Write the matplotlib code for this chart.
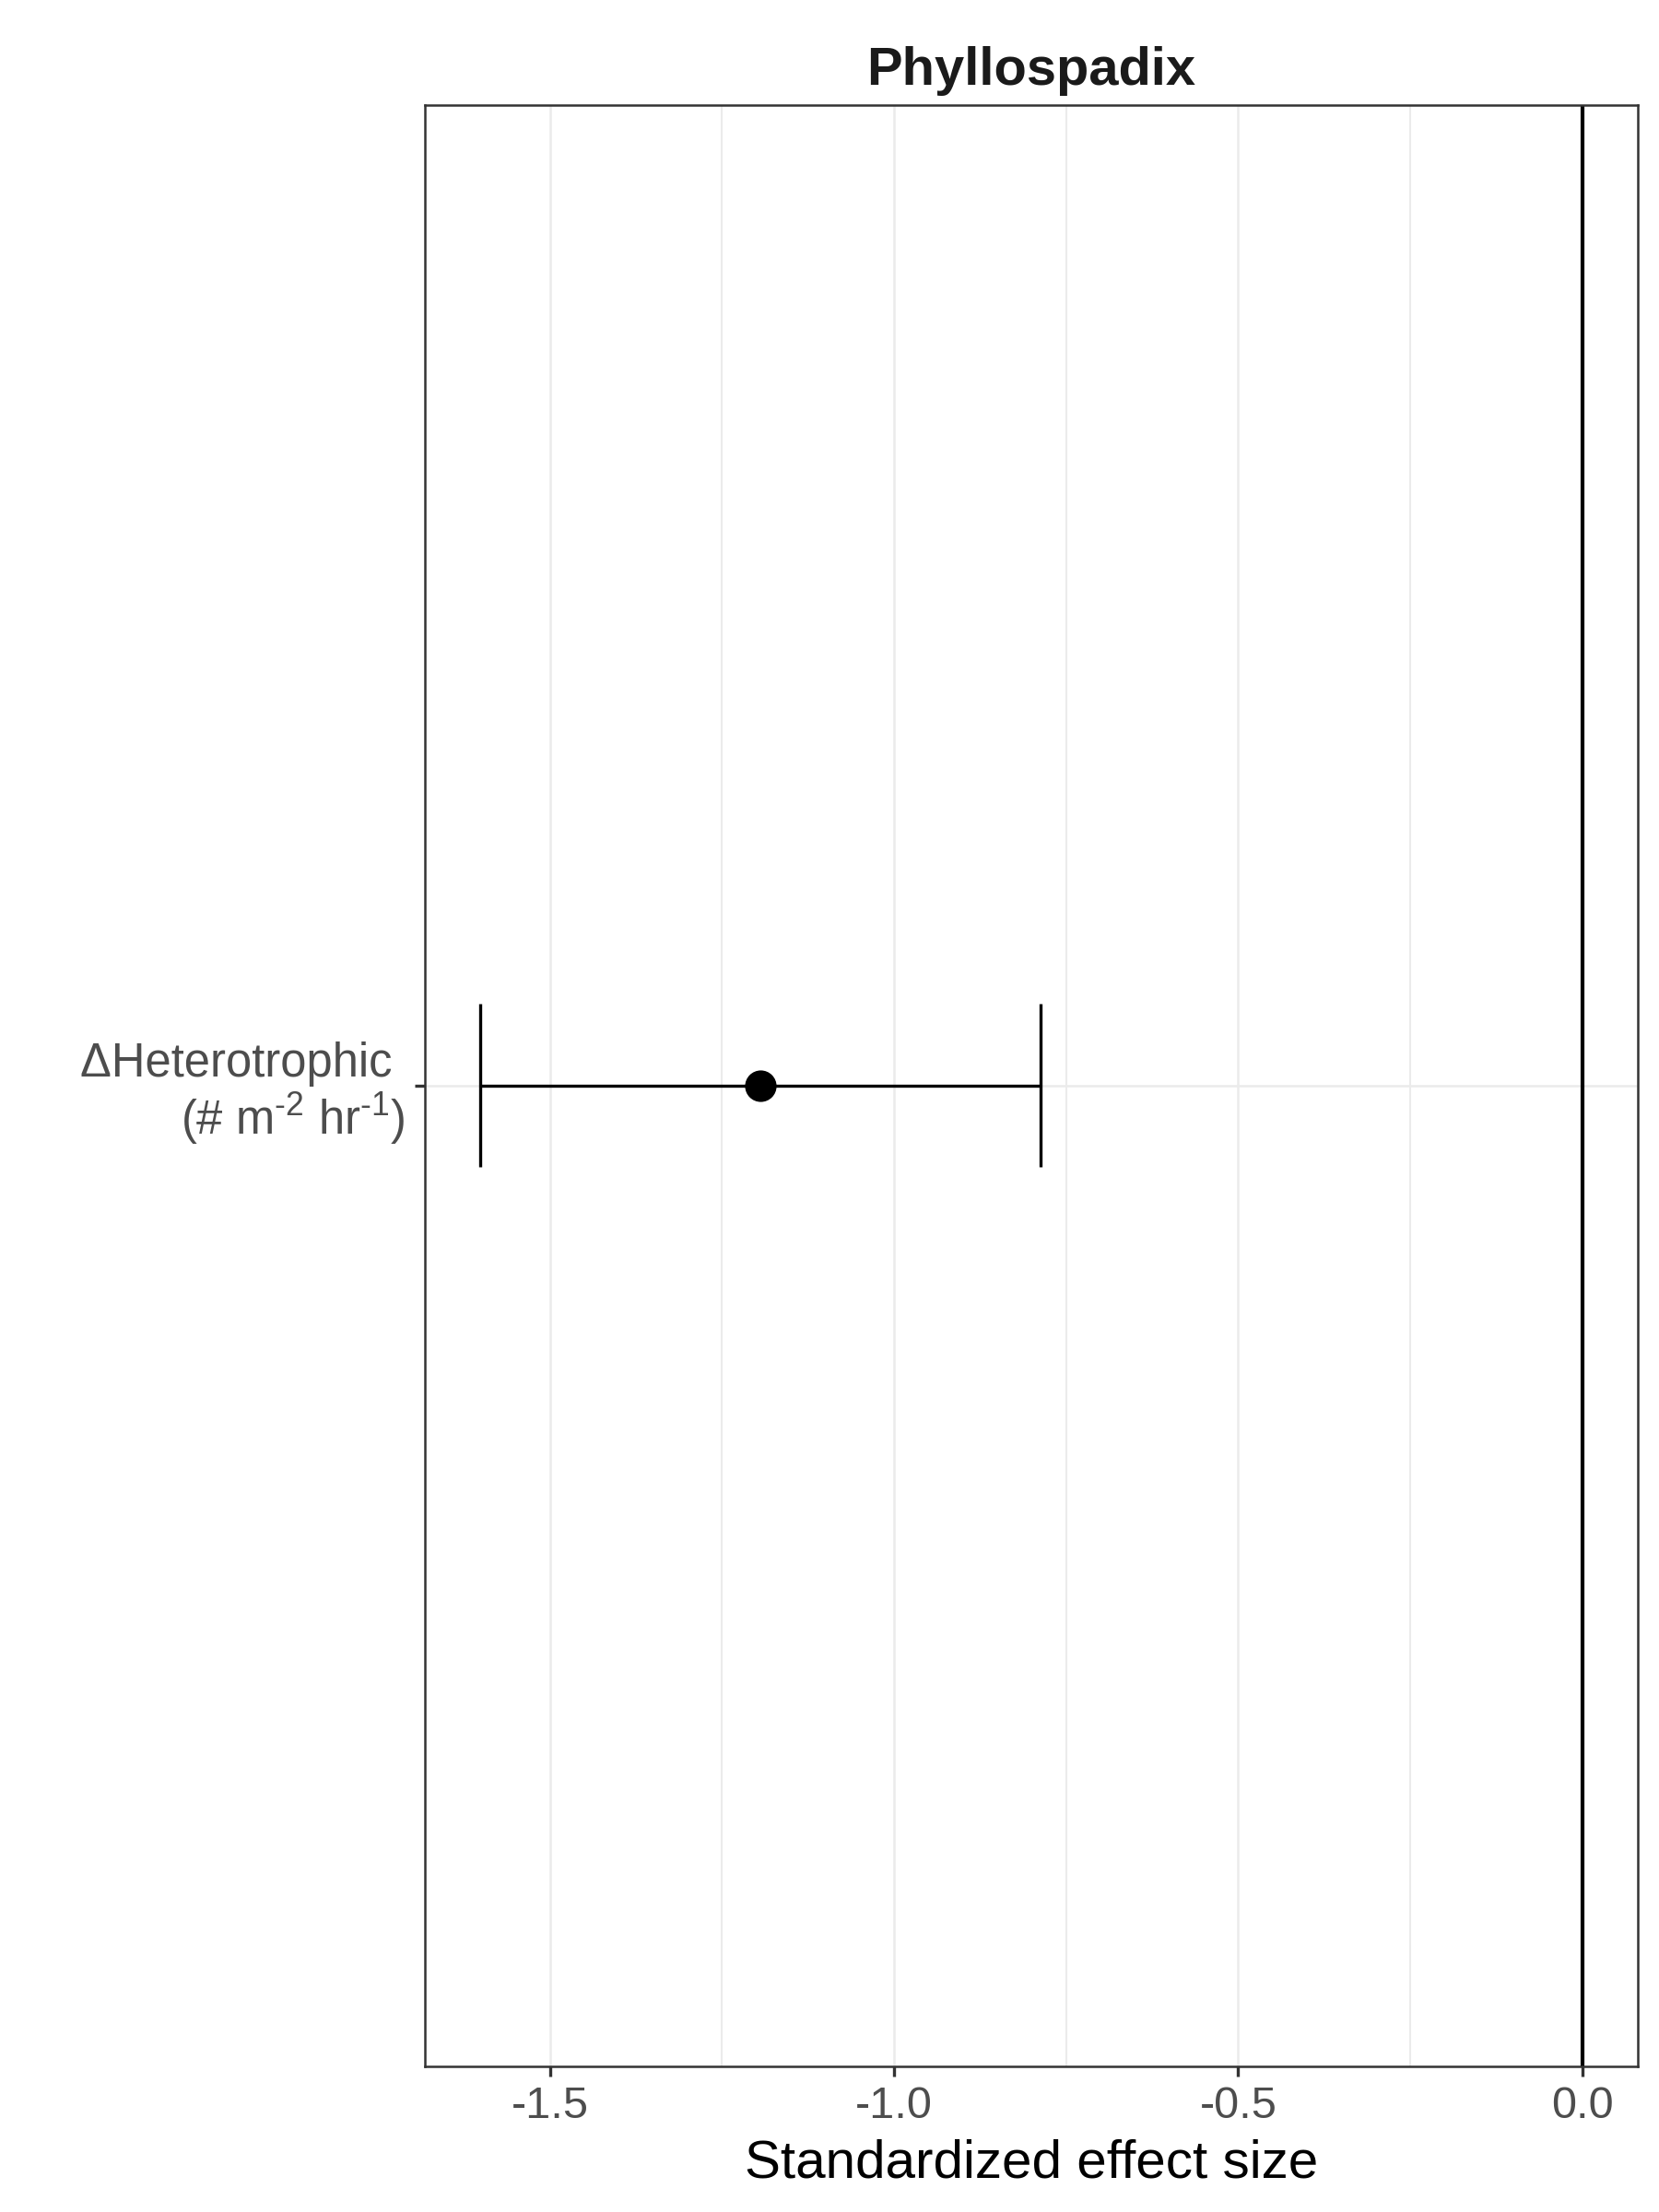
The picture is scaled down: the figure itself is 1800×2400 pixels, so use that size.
import matplotlib.pyplot as plt

plt.rcParams['font.family'] = ['Liberation Sans', 'DejaVu Sans']
plt.rcParams['mathtext.fontset'] = 'custom'
plt.rcParams['mathtext.rm'] = 'Liberation Sans'
plt.rcParams['mathtext.it'] = 'Liberation Sans'

# data
labels = ['ΔHeterotrophic \n(# m$^{\\text{-}2}$ hr$^{\\text{-}1}$)']
estimate = [-1.195]
lower = [-1.602]
upper = [-0.787]
title = 'Phyllospadix'

fig = plt.figure(figsize=(6, 8), dpi=300)
ax = fig.add_axes([0.256, 0.066, 0.731, 0.8865])

ypos = list(range(1, len(labels) + 1))
cap = 0.05

# grid
for x in [-1.25, -0.75, -0.25]:
    ax.axvline(x, color='#EBEBEB', lw=0.5, zorder=0)
for x in [-1.5, -1.0, -0.5]:
    ax.axvline(x, color='#EBEBEB', lw=0.6, zorder=0)
for y in ypos:
    ax.axhline(y, color='#EBEBEB', lw=0.6, zorder=0)

ax.axvline(0, color='black', lw=1.0, zorder=1)

ax.hlines(ypos, lower, upper, color='black', lw=0.8, zorder=2)
ax.vlines(lower, [y - cap for y in ypos], [y + cap for y in ypos], color='black', lw=0.8, zorder=2)
ax.vlines(upper, [y - cap for y in ypos], [y + cap for y in ypos], color='black', lw=0.8, zorder=2)
ax.plot(estimate, ypos, 'o', color='black', markersize=7.2, zorder=3)

rng = 0 - min(lower)
ax.set_xlim(min(lower) - 0.05 * rng, 0 + 0.05 * rng)
ax.set_ylim(0.4, len(labels) + 0.6)

ax.set_xticks([-1.5, -1.0, -0.5, 0.0])
ax.set_xticklabels(['-1.5', '-1.0', '-0.5', '0.0'])
ax.set_yticks(ypos)
ax.set_yticklabels(labels, ha='right', linespacing=1.1, fontsize=12.2)

ax.tick_params(axis='both', colors='#333333', labelcolor='#4D4D4D',
               length=2.7, width=0.8, pad=2.5)
ax.tick_params(axis='x', labelsize=11.7)

for s in ax.spines.values():
    s.set_color('#333333')
    s.set_linewidth(0.6)

ax.set_xlabel('Standardized effect size', fontsize=14, color='black', labelpad=3)
ax.set_title(title, fontsize=13.9, fontweight='bold', color='#1A1A1A', pad=5.3)

fig.savefig('out.png', dpi=300)
